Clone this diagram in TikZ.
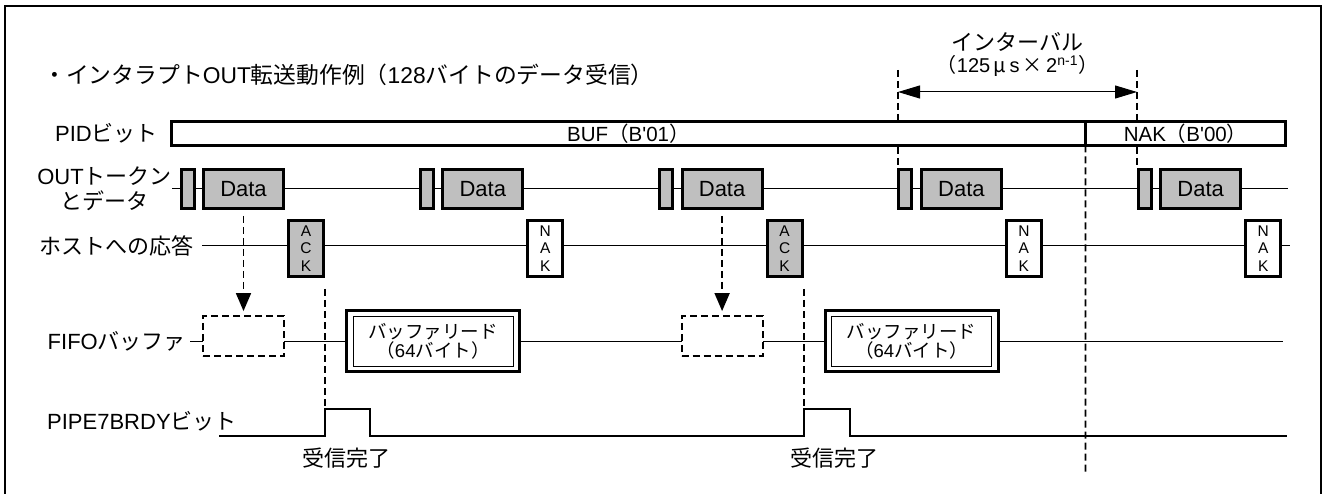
\documentclass[tikz,border=0pt]{standalone}
\usepackage{fontspec}
\newfontfamily\lat{Liberation Sans}
\newfontfamily\jp{Noto Sans CJK JP}
\usetikzlibrary{arrows.meta,positioning,calc,backgrounds}

\begin{document}
\begin{tikzpicture}[x=1pt,y=-1pt]
\tikzstyle{cadre}=[line width=2.5pt]
\tikzstyle{ligne}=[line width=1pt]
\tikzstyle{etiquette}=[inner sep=0pt,font=\lat\fontsize{22}{25}\selectfont]
\tikzstyle{jeton}=[draw,line width=3pt,fill=black!25,minimum width=13pt,minimum height=39pt,inner sep=0pt]
\tikzstyle{donnee}=[jeton,minimum width=80pt,font=\lat\fontsize{22}{25}\selectfont]
\tikzstyle{reponse}=[draw,line width=3pt,fill=white,minimum width=35pt,minimum height=56pt,inner sep=0pt,align=center,font=\lat\fontsize{15.5}{17.5}\selectfont]
\tikzstyle{ack}=[reponse,fill=black!25]
\tikzstyle{fifovide}=[draw,line width=1.8pt,dash pattern=on 7pt off 4pt,fill=white,minimum width=81pt,minimum height=40pt]
\tikzstyle{lecture}=[draw,line width=3pt,fill=white,minimum width=173pt,minimum height=61pt,inner sep=0pt,align=center,font=\lat\fontsize{18.5}{19}\selectfont]
\tikzstyle{pid}=[draw,line width=3pt,fill=white,minimum height=24pt,inner sep=0pt,outer sep=0pt,font=\lat\fontsize{20.5}{24}\selectfont]
\tikzstyle{pointille}=[line width=1.6pt,dash pattern=on 7pt off 4pt]
\tikzstyle{flechepointillee}=[pointille,-{Triangle[length=18pt,width=15pt]}]
\tikzstyle{fleche}=[ligne,{Triangle[length=22pt,width=13pt]}-{Triangle[length=22pt,width=13pt]}]
\tikzstyle{signal}=[line width=2.8pt]
\def\Periode{239.3}
\def\LignePID{133.5}
\def\LigneJeton{189}
\def\LigneReponse{248.5}
\def\LigneFIFO{341}
\useasboundingbox (0,0) rectangle (1325,494);
% cadre
\draw[cadre] (5,500) -- (5,6) -- (1321,6) -- (1321,500);
\node[etiquette,anchor=west,font=\lat\fontsize{22.8}{25}\selectfont] (Titre) at (43,75) {{\jp ・インタラプト}OUT{\jp 転送動作例（}128{\jp バイトのデータ受信）}};
% intervalle
\node[etiquette] (IntTitre) at (1017.5,42) {{\jp インターバル}};
\node[etiquette,font=\lat\fontsize{20}{24}\selectfont] (IntDuree) at (1017.5,66) {{\jp （}125\,{\jp μ}\,s\,{\jp ×}\,2\textsuperscript{n-1}{\jp ）}};
\coordinate (IntG) at (898,70);
\coordinate (IntD) at (1137,70);
% etiquettes des lignes
\node[etiquette,anchor=east] (EtPID) at (158,\LignePID) {PID{\jp ビット}};
\node[etiquette,anchor=east,align=center] (EtOUT) at (172,\LigneJeton) {OUT{\jp トークン}\\{\jp とデータ}};
\node[etiquette,anchor=east] (EtHote) at (194,246) {{\jp ホストへの応答}};
\node[etiquette,anchor=east] (EtFIFO) at (186,\LigneFIFO) {FIFO{\jp バッファ}};
\node[etiquette,anchor=west] (EtBRDY) at (47,421) {PIPE7BRDY{\jp ビット}};
% PID
\node[pid,minimum width=914.25pt] (PIDbuf) at (628.4,\LignePID) {BUF{\jp （}B'01{\jp ）}};
\node[pid,minimum width=200.25pt] (PIDnak) at (1185.6,\LignePID) {NAK{\jp （}B'00{\jp ）}};
% jetons OUT et donnees
\node[jeton] (T1) at ({187.5+0*\Periode},\LigneJeton) {};
\node[jeton] (T2) at ({187.5+1*\Periode},\LigneJeton) {};
\node[jeton] (T3) at ({187.5+2*\Periode},\LigneJeton) {};
\node[jeton] (T4) at ({187.5+3*\Periode},\LigneJeton) {};
\node[jeton] (T5) at ({187.5+4*\Periode},\LigneJeton) {};
\node[donnee] (D1) at ({243.5+0*\Periode},\LigneJeton) {Data};
\node[donnee] (D2) at ({243.5+1*\Periode},\LigneJeton) {Data};
\node[donnee] (D3) at ({243.5+2*\Periode},\LigneJeton) {Data};
\node[donnee] (D4) at ({243.5+3*\Periode},\LigneJeton) {Data};
\node[donnee] (D5) at ({243.5+4*\Periode},\LigneJeton) {Data};
% reponses
\node[ack] (R1) at ({306+0*\Periode},\LigneReponse) {A\\C\\K};
\node[reponse] (R2) at ({306+1*\Periode},\LigneReponse) {N\\A\\K};
\node[ack] (R3) at ({306+2*\Periode},\LigneReponse) {A\\C\\K};
\node[reponse] (R4) at ({306+3*\Periode},\LigneReponse) {N\\A\\K};
\node[reponse] (R5) at ({306+4*\Periode},\LigneReponse) {N\\A\\K};
% FIFO
\node[fifovide] (F1) at ({243.5+0*\Periode},336) {};
\node[fifovide] (F2) at ({243.5+2*\Periode},336) {};
\node[lecture] (L1) at ({433+0*\Periode},\LigneFIFO) {{\jp バッファリード}\\{\jp （}64{\jp バイト）}};
\node[lecture] (L2) at ({433+2*\Periode},\LigneFIFO) {{\jp バッファリード}\\{\jp （}64{\jp バイト）}};
\draw[line width=0.8pt] ([shift={(8pt,-7pt)}]L1.north west) rectangle ([shift={(-8pt,7pt)}]L1.south east);
\draw[line width=0.8pt] ([shift={(8pt,-7pt)}]L2.north west) rectangle ([shift={(-8pt,7pt)}]L2.south east);
% signal BRDY
\coordinate (DebutBRDY) at (219,436);
\coordinate (M1) at (325,409);
\coordinate (M2) at (804,409);
\coordinate (FinBRDY) at (1287,436);
\node[etiquette] (Recu1) at (346,458) {{\jp 受信完了}};
\node[etiquette] (Recu2) at (834,458) {{\jp 受信完了}};
\coordinate (FinOUT) at (1288,\LigneJeton);
\coordinate (FinHote) at (1290,246);
\coordinate (FinFIFO) at (1283,\LigneFIFO);
\coordinate (FinSep) at (1085.5,473);
\begin{scope}[on background layer]
\draw[ligne] (EtOUT.east) -- (FinOUT);
\draw[ligne,shorten <=8pt] (EtHote.east) -- (FinHote);
\draw[ligne,shorten <=4pt] (EtFIFO.east) -- (FinFIFO);
\draw[pointille] (IntG) -- (IntG |- T4.north);
\draw[pointille] (IntD) -- (IntD |- T5.north);
\end{scope}
\draw[fleche] ([yshift=-22pt]IntG) -- ([yshift=-22pt]IntD);
\draw[flechepointillee,shorten <=6pt,shorten >=4pt] (D1.south) -- (F1.north);
\draw[flechepointillee,shorten <=6pt,shorten >=4pt] (D3.south) -- (F2.north);
\draw[pointille,shorten <=11pt] (M1 |- R1.south) -- (M1);
\draw[pointille,shorten <=11pt] (M2 |- R3.south) -- (M2);
\draw[pointille] (PIDnak.south west) -- (FinSep);
\draw[signal] (DebutBRDY) -| (M1) -| (370,436) -| (M2) -| (850,436) -- (FinBRDY);
\end{tikzpicture}
\end{document}
